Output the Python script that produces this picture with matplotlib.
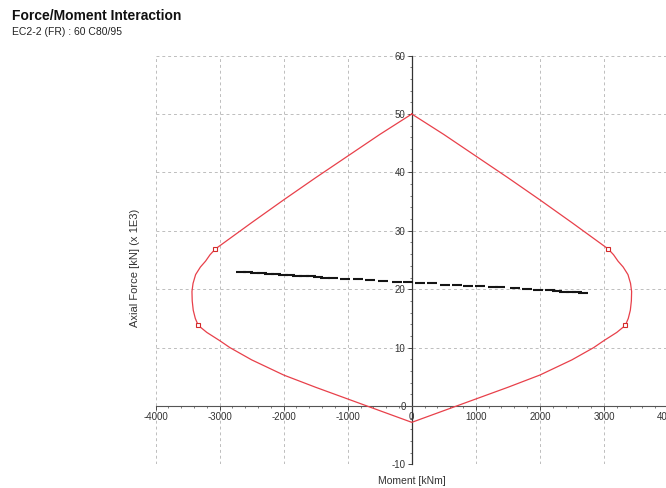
import matplotlib
matplotlib.use('Agg')
import matplotlib.pyplot as plt
from matplotlib.ticker import MultipleLocator

plt.rcParams['font.family'] = ['Liberation Sans', 'DejaVu Sans']
plt.rcParams['axes.unicode_minus'] = False

# interaction curve (moment kNm, axial force kN x 1E3), right half from top to bottom
right_m = [0, 500, 1000, 1500, 2000, 2500, 3065, 3150, 3220, 3300, 3375, 3415, 3432,
           3428, 3412, 3380, 3334, 3200, 3000, 2840, 2500, 2000, 1500, 1000, 700, 400, 0]
right_n = [50, 46.5, 42.8, 39.1, 35.3, 31.4, 26.9, 25.9, 24.8, 23.8, 22.5, 21.0, 19.6,
           18.0, 16.4, 15.0, 13.8, 12.6, 11.2, 10.0, 7.9, 5.3, 3.2, 1.2, 0, -1.2, -2.8]
# left half from bottom to top
left_m = [-400, -700, -1000, -1500, -2000, -2500, -2840, -3000, -3200, -3334, -3380, -3412,
          -3428, -3432, -3415, -3375, -3300, -3220, -3150, -3065, -2500, -2000, -1500,
          -1000, -500, 0]
left_n = [-1.2, 0, 1.2, 3.2, 5.3, 7.9, 10.0, 11.2, 12.6, 13.8, 15.0, 16.4,
          18.0, 19.6, 21.0, 22.5, 23.8, 24.8, 25.9, 26.9, 31.4, 35.3, 39.1,
          42.8, 46.5, 50]

# marked points on the curve
mark_m = [3065, 3334, -3065, -3334]
mark_n = [26.9, 13.8, 26.9, 13.8]

# load points
load_m = [-2670, -2560, -2450, -2340, -2230, -2120, -2010, -1900, -1790, -1680, -1570, -1460,
          -1350, -1230, -1045, -840, -655, -450, -235, -60, 125, 310, 515, 700, 875, 1060,
          1265, 1375, 1605, 1795, 1965, 2155, 2260, 2370, 2480, 2580, 2670]
load_n = [23.0, 22.9, 22.8, 22.7, 22.6, 22.6, 22.5, 22.4, 22.3, 22.3, 22.2, 22.1,
          22.0, 21.9, 21.8, 21.7, 21.6, 21.4, 21.3, 21.2, 21.1, 21.0, 20.8, 20.7, 20.6, 20.5,
          20.4, 20.3, 20.2, 20.0, 19.9, 19.8, 19.7, 19.6, 19.6, 19.5, 19.4]

fig = plt.figure(figsize=(6.66, 4.88), dpi=100)
ax = fig.add_axes([0.2336, 0.0484, 0.7694, 0.8376])

ax.plot(right_m + left_m, right_n + left_n, color='#e8404a', lw=0.9, zorder=3)
ax.plot(mark_m, mark_n, ls='none', marker='s', ms=3.2, mfc='white', mec='#d42a2a', mew=0.8, zorder=4)
ax.plot(load_m, load_n, ls='none', marker='_', ms=6.5, mew=1.5, color='#151515', zorder=5)

ax.set_xlim(-4000, 4000)
ax.set_ylim(-10, 60)
ax.xaxis.set_major_locator(MultipleLocator(1000))
ax.xaxis.set_minor_locator(MultipleLocator(200))
ax.yaxis.set_major_locator(MultipleLocator(10))
ax.yaxis.set_minor_locator(MultipleLocator(2))

ax.grid(True, which='major', color='#bdbdbd', ls=(0, (3, 3)), lw=0.7)
ax.set_axisbelow(True)

for s in ['top', 'right']:
    ax.spines[s].set_visible(False)
ax.spines['left'].set_position(('data', 0))
ax.spines['bottom'].set_position(('data', 0))
ax.spines['left'].set_color('#333333')
ax.spines['bottom'].set_color('#555555')
ax.spines['left'].set_linewidth(0.9)
ax.spines['bottom'].set_linewidth(0.8)

ax.tick_params(which='major', length=3, width=0.7, colors='#444444', labelsize=7, pad=1.5)
ax.tick_params(which='minor', length=1.5, width=0.6, colors='#666666')
ax.tick_params(axis='x', labelcolor='#333333')
ax.tick_params(axis='y', labelcolor='#333333')

fig.text(412 / 666, 7 / 488, 'Moment [kNm]', ha='center', va='center',
         fontsize=7.5, color='#333333')
fig.text(135 / 666, 1 - 268 / 488, 'Axial Force [kN] (x 1E3)', ha='center', va='center',
         rotation=90, fontsize=8, color='#333333')

fig.text(12 / 666, 1 - 16 / 488, 'Force/Moment Interaction', ha='left', va='center',
         fontsize=10, fontweight='bold', color='#111111')
fig.text(12 / 666, 1 - 32 / 488, 'EC2-2 (FR) : 60 C80/95', ha='left', va='center',
         fontsize=7.5, color='#222222')

fig.savefig('out.png', dpi=100)
